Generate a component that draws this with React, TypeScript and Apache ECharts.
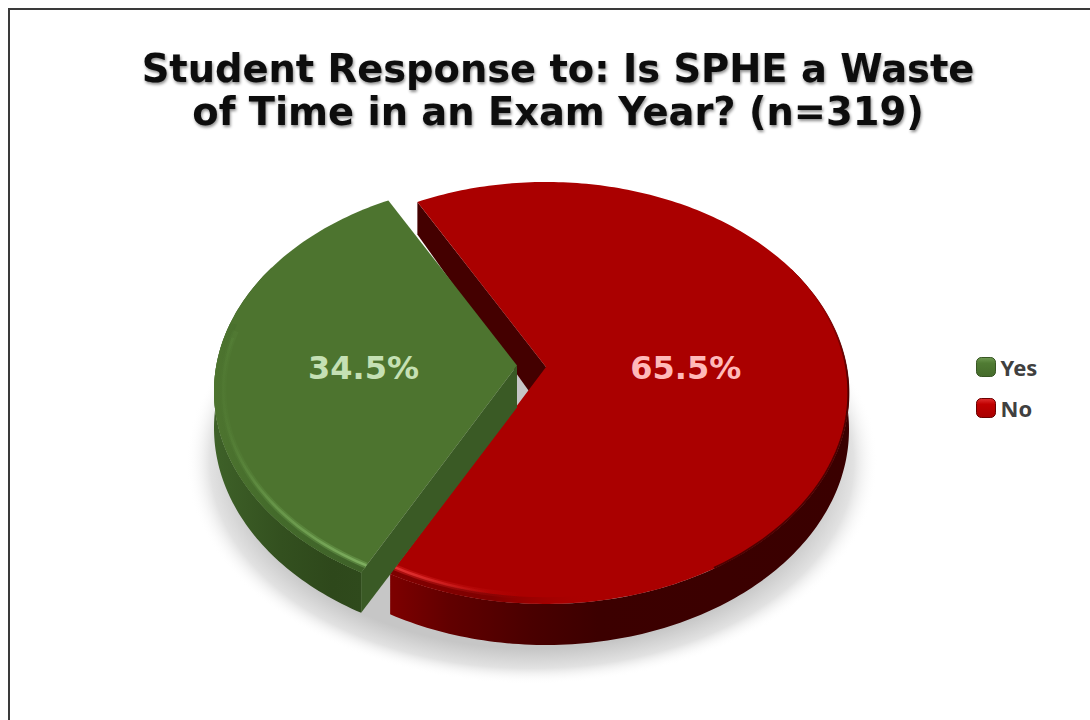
import React, { useEffect, useRef } from "react";
import * as echarts from "echarts";

const titleText = "Student Response to: Is SPHE a Waste\nof Time in an Exam Year? (n=319)";
const categories = ["Yes", "No"];
const percentages = [34.5, 65.5];

// 3D projection of the pie's plane
const APEX_X = 546, APEX_Y = 367, RX = 300.7, RY = 207.8, PERSP = 0.123, DEPTH = 36;
const START_NO = -28.3;
const EXPLODE_YES = { x: -29, y: -1.5 };

type Pt = number[];
function project(deg: number, r: number, ox = 0, oy = 0, down = 0): Pt {
  const a = (deg * Math.PI) / 180;
  const u = r * Math.sin(a);
  const v = -r * Math.cos(a);
  const w = 1 - PERSP * v;
  return [APEX_X + (RX * u) / w + ox, APEX_Y + (RY * v) / w + oy + (down * DEPTH) / w];
}
function arc(a0: number, a1: number, r: number, ox = 0, oy = 0, down = 0): Pt[] {
  const n = Math.max(2, Math.ceil(Math.abs(a1 - a0)));
  const out: Pt[] = [];
  for (let i = 0; i <= n; i++) out.push(project(a0 + ((a1 - a0) * i) / n, r, ox, oy, down));
  return out;
}
const lg = (x0: number, y0: number, x1: number, y1: number, stops: [number, string][]) =>
  new echarts.graphic.LinearGradient(x0, y0, x1, y1, stops.map(([offset, color]) => ({ offset, color })), true);

function wall(a0: number, a1: number, ox: number, oy: number, fill: any) {
  const top = arc(a0, a1, 1, ox, oy, 0);
  const bottom = arc(a0, a1, 1, ox, oy, 1).reverse();
  return { type: "polygon", shape: { points: top.concat(bottom) }, style: { fill } };
}
function band(a0: number, a1: number, r0: number, r1: number, ox: number, oy: number, fill: any) {
  return {
    type: "polygon",
    shape: { points: arc(a0, a1, r0, ox, oy).concat(arc(a0, a1, r1, ox, oy).reverse()) },
    style: { fill },
  };
}

function renderNo(_p: any, api: any) {
  const pct = api.value(0) as number;
  const a0 = START_NO;
  const a1 = a0 + pct * 3.6;
  const mid = (a0 + a1) / 2;
  const lab = project(mid, 0.465);
  const children: any[] = [
    {
      type: "ellipse",
      shape: { cx: 532, cy: 462, rx: 346, ry: 222 },
      style: {
        fill: new echarts.graphic.RadialGradient(0.5, 0.5, 0.5, [
          { offset: 0, color: "#c6c6c6" },
          { offset: 0.84, color: "#c6c6c6" },
          { offset: 0.93, color: "#e2e2e2" },
          { offset: 1, color: "rgba(255,255,255,0)" },
        ]),
      },
    },
    wall(60, a1, 0, 0, lg(393, 0, 849, 0, [
      [0, "#7c0000"], [0.12, "#620000"], [0.3, "#4a0000"], [0.45, "#3c0000"], [1, "#3a0000"],
    ])),
  ];
  // inner cut wall on the back edge
  const rim = project(a0, 1);
  const rimLow = project(a0, 1, 0, 0, 1);
  children.push({
    type: "polygon",
    shape: { points: [rim, [APEX_X, APEX_Y], [APEX_X, APEX_Y + 48], rimLow] },
    style: { fill: "#440000" },
  });
  const face = [[APEX_X, APEX_Y] as Pt].concat(arc(a0, a1, 1));
  children.push({ type: "polygon", shape: { points: face }, style: { fill: "#aa0000" } });
  // bevel: darker band at the rim with a highlight, both fading to the right
  children.push(band(a1 - 40, a1, 0.975, 1, 0, 0, lg(393, 0, 590, 0, [
    [0, "#7e0000"], [0.5, "#800000"], [1, "rgba(170,0,0,0)"],
  ])));
  children.push({
    type: "polyline",
    shape: { points: arc(a1 - 28, a1, 0.972) },
    style: {
      fill: "none", lineWidth: 6,
      stroke: lg(393, 0, 520, 0, [[0, "rgba(215,30,30,0.55)"], [1, "rgba(215,30,30,0)"]]),
    },
  });
  children.push({
    type: "polyline",
    shape: { points: arc(a1 - 24, a1, 0.972) },
    style: {
      fill: "none", lineWidth: 2.5,
      stroke: lg(393, 0, 490, 0, [[0, "rgba(235,60,60,0.8)"], [1, "rgba(235,60,60,0)"]]),
    },
  });
  children.push({
    type: "polyline",
    shape: { points: arc(50, 150, 0.998) },
    style: {
      fill: "none", lineWidth: 2,
      stroke: lg(0, 290, 0, 390, [[0, "rgba(70,0,0,0)"], [1, "rgba(70,0,0,0.9)"]]),
    },
  });
  children.push({
    type: "text", x: lab[0], y: lab[1] + 2,
    style: {
      text: pct.toFixed(1) + "%", fill: "#ffb9b9",
      font: "bold 32px 'DejaVu Sans'", align: "center", verticalAlign: "middle",
    },
  });
  return { type: "group", children };
}

function renderYes(_p: any, api: any) {
  const pct = api.value(0) as number;
  const a1 = START_NO + percentages[1] * 3.6;
  const a2 = a1 + pct * 3.6;
  const mid = (a1 + a2) / 2;
  const { x: ox, y: oy } = EXPLODE_YES;
  const lab = project(mid, 0.51, ox, oy);
  const corner = project(a1, 1, ox, oy);
  const cornerLow = project(a1, 1, ox, oy, 1);
  const apex: Pt = [APEX_X + ox, APEX_Y + oy];
  const children: any[] = [
    wall(a1, 300, ox, oy, lg(214, 0, 362, 0, [
      [0, "#3e6128"], [0.45, "#33501f"], [0.8, "#2e481b"], [1, "#2f4a1c"],
    ])),
    {
      type: "polygon",
      shape: { points: [apex, corner, cornerLow, [apex[0], apex[1] + 42]] },
      style: { fill: "#3a5a25" },
    },
    { type: "polygon", shape: { points: [apex as Pt].concat(arc(a1, a2, 1, ox, oy)) }, style: { fill: "#4d742f" } },
    band(a1, 282, 0.975, 1, ox, oy, lg(362, 0, 214, 0, [[0, "#3e6128"], [0.6, "#446b2b"], [1, "#4d742f"]])),
    {
      type: "polyline",
      shape: { points: arc(a1, 280, 0.97, ox, oy) },
      style: {
        fill: "none", lineWidth: 6,
        stroke: lg(362, 0, 214, 0, [[0, "rgba(115,165,85,0.5)"], [0.6, "rgba(105,155,75,0.35)"], [1, "rgba(100,150,70,0)"]]),
      },
    },
    {
      type: "polyline",
      shape: { points: arc(a1, 278, 0.97, ox, oy) },
      style: {
        fill: "none", lineWidth: 2.5,
        stroke: lg(362, 0, 214, 0, [[0, "rgba(135,185,105,0.75)"], [0.6, "rgba(120,170,90,0.45)"], [1, "rgba(100,150,70,0)"]]),
      },
    },
    {
      type: "text", x: lab[0], y: lab[1] + 2,
      style: {
        text: pct.toFixed(1) + "%", fill: "#c5e0b4",
        font: "bold 32px 'DejaVu Sans'", align: "center", verticalAlign: "middle",
      },
    },
  ];
  return { type: "group", children };
}

const swatch = (a: string, b: string, c: string) =>
  new echarts.graphic.LinearGradient(0, 0, 0, 1, [
    { offset: 0, color: a }, { offset: 0.3, color: b }, { offset: 1, color: c },
  ]);

export default function App() {
  const ref = useRef<HTMLDivElement>(null);
  useEffect(() => {
    document.body.style.margin = "0";
    const chart = echarts.init(ref.current!, null, { renderer: "svg" });
    chart.setOption({
      animation: false,
      backgroundColor: "#ffffff",
      title: {
        text: titleText,
        left: 553, top: 42, textAlign: "center",
        textStyle: {
          fontFamily: "DejaVu Sans", fontWeight: "bold", fontSize: 38.4, lineHeight: 43, color: "#0a0a0a",
          textShadowColor: "rgba(0,0,0,0.45)", textShadowBlur: 3, textShadowOffsetX: 1, textShadowOffsetY: 2,
        },
      },
      legend: {
        orient: "vertical", left: 976, top: 356, padding: 0, itemWidth: 19, itemHeight: 19, itemGap: 19,
        icon: "roundRect",
        textStyle: { fontFamily: "Noto Sans", fontWeight: "bold", fontSize: 22, lineHeight: 19, color: "#404040", padding: [0, 0, 0, 0] },
        data: [
          { name: categories[0], itemStyle: { color: swatch("#6f9a52", "#507b33", "#456b2b"), borderColor: "#385624", borderWidth: 1 } },
          { name: categories[1], itemStyle: { color: swatch("#e03030", "#c00000", "#a80000"), borderColor: "#6a0000", borderWidth: 1 } },
        ],
      },
      graphic: [{
        type: "rect", shape: { x: 9, y: 9, width: 1200, height: 900 },
        style: { fill: "none", stroke: "#3a3a3a", lineWidth: 2 }, silent: true,
      }],
      series: [
        {
          type: "custom", name: categories[1], coordinateSystem: "none", z: 2,
          itemStyle: { color: "#c00000" },
          renderItem: renderNo, data: [{ name: categories[1], value: percentages[1] }],
        },
        {
          type: "custom", name: categories[0], coordinateSystem: "none", z: 3,
          itemStyle: { color: "#548235" },
          renderItem: renderYes, data: [{ name: categories[0], value: percentages[0] }],
        },
      ],
    });
    return () => chart.dispose();
  }, []);
  return <div ref={ref} style={{ width: 1090, height: 720 }} />;
}
